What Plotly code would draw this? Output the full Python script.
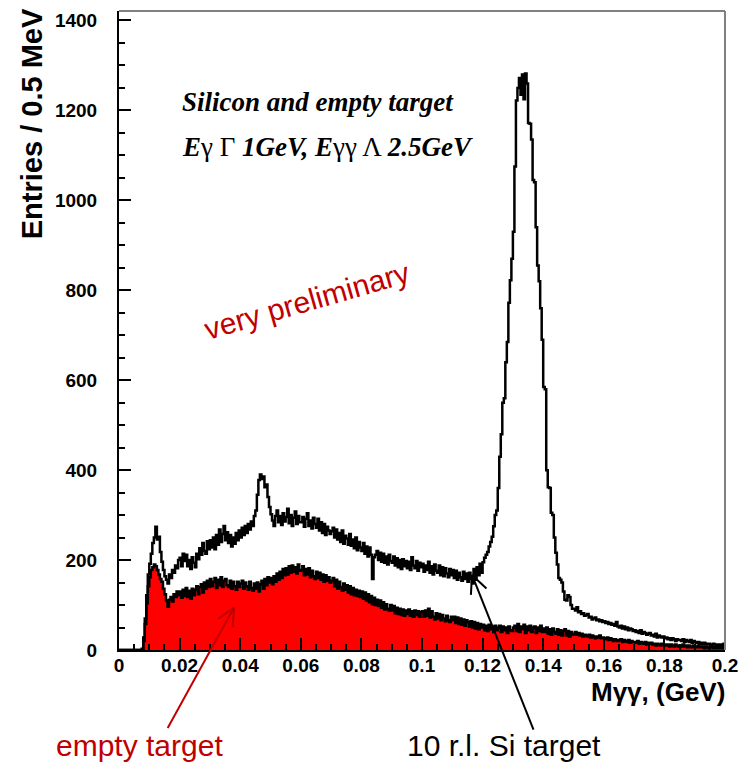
import math
import plotly.graph_objects as go

# Histogram binning: 0.5 MeV bins from 0 to 0.2 GeV
BIN_WIDTH = 0.0005
X_RANGE = [0.0, 0.2]
Y_RANGE = [0.0, 1421.0]

x_tick_values = [0.0, 0.02, 0.04, 0.06, 0.08, 0.1, 0.12, 0.14, 0.16, 0.18, 0.2]
x_tick_labels = ["0", "0.02", "0.04", "0.06", "0.08", "0.1", "0.12", "0.14", "0.16", "0.18", "0.2"]
y_tick_values = [0, 200, 400, 600, 800, 1000, 1200, 1400]
y_tick_labels = ["0", "200", "400", "600", "800", "1000", "1200", "1400"]

# Entries per 0.5 MeV bin, 10 r.l. Si target (one row = 10 MeV)
si_target = [
    0, 0, 0, 0, 0, 0, 0, 0, 0, 0, 0, 0, 0, 0, 0, 3, 28, 70, 122, 168,
    192, 214, 238, 250, 274, 246, 252, 218, 196, 178, 164, 156, 148, 168, 160, 178, 172, 188, 182, 200,
    205, 186, 214, 198, 212, 186, 200, 180, 206, 194, 184, 214, 202, 226, 212, 238, 220, 214, 242, 224,
    244, 228, 250, 224, 256, 234, 268, 240, 258, 276, 244, 262, 238, 256, 230, 250, 236, 260, 244, 266,
    250, 272, 256, 276, 260, 280, 268, 286, 276, 298, 310, 345, 378, 390, 380, 386, 362, 368, 340, 318,
    302, 288, 276, 298, 310, 284, 298, 278, 304, 286, 296, 314, 282, 300, 276, 294, 308, 280, 298, 284,
    284, 296, 274, 292, 304, 276, 288, 270, 294, 280, 272, 292, 266, 284, 260, 280, 256, 274, 266, 258,
    264, 272, 250, 268, 246, 260, 240, 266, 236, 254, 248, 234, 258, 232, 246, 226, 250, 222, 240, 228,
    220, 238, 214, 230, 208, 228, 212, 158, 206, 212, 220, 200, 216, 196, 214, 194, 208, 190, 212, 198,
    194, 208, 188, 204, 184, 200, 180, 202, 186, 198, 182, 196, 178, 206, 188, 182, 198, 176, 194, 184,
    192, 174, 188, 178, 196, 172, 186, 168, 190, 176, 172, 188, 166, 184, 164, 182, 170, 162, 180, 166,
    178, 160, 176, 156, 172, 162, 154, 174, 158, 170, 152, 172, 158, 148, 180, 156, 184, 166, 192, 172,
    195, 205, 212, 218, 230, 240, 252, 275, 300, 310, 360, 430, 480, 550, 560, 640, 685, 772, 822, 870,
    930, 1075, 1222, 1250, 1272, 1235, 1280, 1225, 1282, 1260, 1172, 1170, 1135, 1045, 1040, 940, 855, 820, 760, 690,
    585, 580, 400, 362, 360, 305, 300, 250, 216, 190, 160, 156, 150, 130, 112, 110, 122, 118, 100, 92,
    92, 88, 95, 84, 86, 80, 82, 76, 78, 80, 72, 74, 68, 70, 72, 66, 68, 64, 66, 62,
    64, 60, 62, 58, 60, 56, 58, 54, 62, 52, 50, 54, 48, 52, 46, 50, 44, 48, 46, 42,
    44, 40, 42, 38, 44, 36, 40, 38, 34, 36, 38, 32, 34, 30, 36, 28, 32, 30, 28, 30,
    26, 28, 24, 26, 22, 26, 24, 20, 24, 22, 22, 20, 24, 18, 22, 20, 18, 22, 16, 20,
    18, 16, 18, 14, 16, 12, 16, 14, 12, 14, 12, 10, 14, 12, 10, 12, 8, 12, 10, 14,
]

# Entries per 0.5 MeV bin, empty target
empty_target = [
    0, 0, 0, 0, 0, 0, 0, 0, 0, 0, 0, 0, 0, 0, 0, 0, 20, 58, 104, 142,
    162, 178, 184, 190, 186, 178, 168, 158, 152, 136, 124, 110, 96, 112, 118, 108, 124, 118, 130, 122,
    130, 116, 134, 120, 138, 118, 132, 114, 136, 122, 134, 142, 124, 140, 146, 128, 150, 136, 154, 140,
    158, 142, 152, 160, 138, 156, 144, 162, 140, 154, 158, 144, 140, 154, 136, 152, 142, 134, 152, 140,
    148, 154, 136, 150, 142, 134, 152, 138, 132, 148, 136, 150, 130, 146, 154, 136, 158, 144, 162, 150,
    160, 146, 164, 152, 170, 156, 174, 160, 180, 166, 182, 168, 186, 172, 188, 174, 184, 170, 190, 176,
    178, 186, 166, 180, 168, 182, 162, 176, 164, 158, 174, 160, 172, 156, 168, 152, 166, 154, 162, 150,
    154, 160, 142, 156, 136, 152, 140, 132, 148, 134, 144, 128, 142, 124, 138, 122, 134, 120, 132, 118,
    130, 114, 128, 110, 124, 106, 120, 102, 116, 100, 112, 98, 110, 94, 106, 90, 102, 92, 88, 100,
    88, 98, 82, 94, 80, 92, 78, 90, 76, 88, 80, 90, 76, 86, 74, 88, 78, 86, 74, 84,
    86, 74, 88, 76, 92, 72, 86, 74, 68, 82, 70, 80, 66, 78, 70, 64, 76, 66, 62, 74,
    66, 74, 60, 72, 58, 70, 56, 68, 54, 66, 62, 52, 64, 50, 62, 48, 60, 46, 58, 50,
    56, 44, 54, 42, 56, 46, 52, 40, 54, 44, 50, 54, 40, 52, 44, 50, 38, 52, 44, 42,
    50, 54, 42, 58, 40, 52, 46, 56, 38, 52, 44, 54, 40, 50, 52, 38, 50, 42, 54, 40,
    48, 40, 50, 36, 46, 34, 48, 40, 36, 46, 34, 44, 32, 42, 46, 32, 42, 30, 40, 34,
    36, 40, 34, 38, 32, 36, 30, 34, 32, 30, 34, 28, 32, 30, 26, 30, 28, 32, 26, 28,
    26, 24, 28, 22, 26, 24, 20, 24, 22, 20, 22, 24, 18, 22, 20, 18, 22, 16, 20, 18,
    18, 16, 20, 14, 18, 16, 14, 18, 12, 16, 14, 16, 12, 14, 10, 14, 12, 10, 14, 12,
    12, 10, 12, 8, 12, 10, 8, 12, 10, 8, 10, 8, 12, 8, 10, 6, 10, 8, 6, 10,
    8, 6, 10, 6, 8, 6, 4, 8, 6, 4, 6, 8, 4, 6, 4, 8, 4, 6, 4, 8,
]

# Canvas geometry (pixels)
FIG_W, FIG_H = 748, 767
L, T, W, H = 119, 10, 611, 640

SANS = "Liberation Sans, Arial, Helvetica, sans-serif"
SERIF = "Liberation Serif, Times New Roman, serif"
DARK_RED = "#c00000"
LINE_W = 2.5


def step_xy(counts):
    """Bin edges and contents for a step ('hv') histogram outline."""
    edges = [i * BIN_WIDTH for i in range(len(counts) + 1)]
    return edges, list(counts) + [counts[-1]]


def px_to_paper(px, py):
    return (px - L) / W, (T + H - py) / H


def data_to_px(x, y):
    return (L + (x - X_RANGE[0]) / (X_RANGE[1] - X_RANGE[0]) * W,
            T + H - (y - Y_RANGE[0]) / (Y_RANGE[1] - Y_RANGE[0]) * H)


def arrow_shapes(head_x, head_y, tail_dx, tail_dy, color, width=2, arm=20, spread=25):
    """Line arrow pointing at (head_x, head_y) in data units, tail offset in pixels."""
    hx, hy = data_to_px(head_x, head_y)
    tx, ty = hx + tail_dx, hy + tail_dy
    n = math.hypot(tail_dx, tail_dy)
    ux, uy = tail_dx / n, tail_dy / n
    segs = [((tx, ty), (hx, hy))]
    for s in (spread, -spread):
        a = math.radians(s)
        rx = ux * math.cos(a) - uy * math.sin(a)
        ry = ux * math.sin(a) + uy * math.cos(a)
        segs.append(((hx, hy), (hx + rx * arm, hy + ry * arm)))
    shapes = []
    for (x0, y0), (x1, y1) in segs:
        p0, p1 = px_to_paper(x0, y0), px_to_paper(x1, y1)
        shapes.append(dict(type="line", xref="paper", yref="paper",
                           x0=p0[0], y0=p0[1], x1=p1[0], y1=p1[1],
                           line=dict(color=color, width=width)))
    return shapes


fig = go.Figure()

ex, ey = step_xy(empty_target)
fig.add_trace(go.Scatter(
    x=ex, y=ey, mode="lines", line=dict(shape="hv", color="black", width=LINE_W),
    fill="tozeroy", fillcolor="#ff0000", name="empty target", hoverinfo="skip"))

sx, sy = step_xy(si_target)
fig.add_trace(go.Scatter(
    x=sx, y=sy, mode="lines", line=dict(shape="hv", color="black", width=LINE_W),
    name="10 r.l. Si target", hoverinfo="skip"))

tick_font = dict(family=SANS, size=19, color="black", weight="bold")

fig.update_xaxes(
    range=X_RANGE, tickmode="array", tickvals=x_tick_values, ticktext=x_tick_labels,
    ticks="inside", ticklen=12, tickwidth=2, tickcolor="black",
    showline=True, linewidth=2, linecolor="black", showgrid=False, zeroline=False,
    tickfont=tick_font, ticklabelstandoff=-3,
    minor=dict(tickmode="linear", tick0=0, dtick=0.005, ticks="inside",
               ticklen=6, tickwidth=1.5, tickcolor="black", showgrid=False),
)
fig.update_yaxes(
    range=Y_RANGE, tickmode="array", tickvals=y_tick_values, ticktext=y_tick_labels,
    ticks="inside", ticklen=12, tickwidth=2, tickcolor="black",
    showline=True, linewidth=2, linecolor="black", showgrid=False, zeroline=False,
    tickfont=tick_font, ticklabelstandoff=16,
    minor=dict(tickmode="linear", tick0=0, dtick=50, ticks="inside",
               ticklen=6, tickwidth=1.5, tickcolor="black", showgrid=False),
)

shapes = [
    dict(type="line", xref="paper", yref="paper", x0=0, y0=1, x1=1, y1=1,
         line=dict(color="#808080", width=2)),
    dict(type="line", xref="paper", yref="paper", x0=1, y0=0, x1=1, y1=1,
         line=dict(color="#808080", width=2)),
]
shapes += arrow_shapes(0.038, 95, -67, 121, DARK_RED, width=2)
shapes += arrow_shapes(0.1165, 167, 62, 155, "black", width=2)

annotations = []


def add_text(text, px, py, size, family=SANS, color="black", xanchor="center",
             yanchor="middle", angle=0, weight="normal"):
    xp, yp = px_to_paper(px, py)
    annotations.append(dict(
        text=text, x=xp, y=yp, xref="paper", yref="paper", showarrow=False,
        xanchor=xanchor, yanchor=yanchor, textangle=angle,
        font=dict(family=family, size=size, color=color, weight=weight)))


add_text("<b><i>Silicon and empty target</i></b>", 180, 101, 27, family=SERIF, xanchor="left")
add_text("<b><i>E</i></b>γ Γ <b><i>1GeV, E</i></b>γγ Λ <b><i>2.5GeV</i></b>", 180, 146, 27,
         family=SERIF, xanchor="left")
add_text("very preliminary", 309, 300, 30, color=DARK_RED, angle=-16)
add_text("Entries / 0.5 MeV", 31, 5, 29, yanchor="top", angle=-90, weight="bold")
add_text("Mγγ, (GeV)", 732, 692, 26, xanchor="right", weight="bold")
add_text("empty target", 140, 746, 30, color=DARK_RED)
add_text("10 r.l. Si target", 507, 746, 30)

fig.update_layout(
    width=FIG_W, height=FIG_H,
    margin=dict(l=L, r=FIG_W - L - W, t=T, b=FIG_H - T - H),
    paper_bgcolor="white", plot_bgcolor="white", showlegend=False,
    shapes=shapes, annotations=annotations,
)

fig.write_html("out.html")
